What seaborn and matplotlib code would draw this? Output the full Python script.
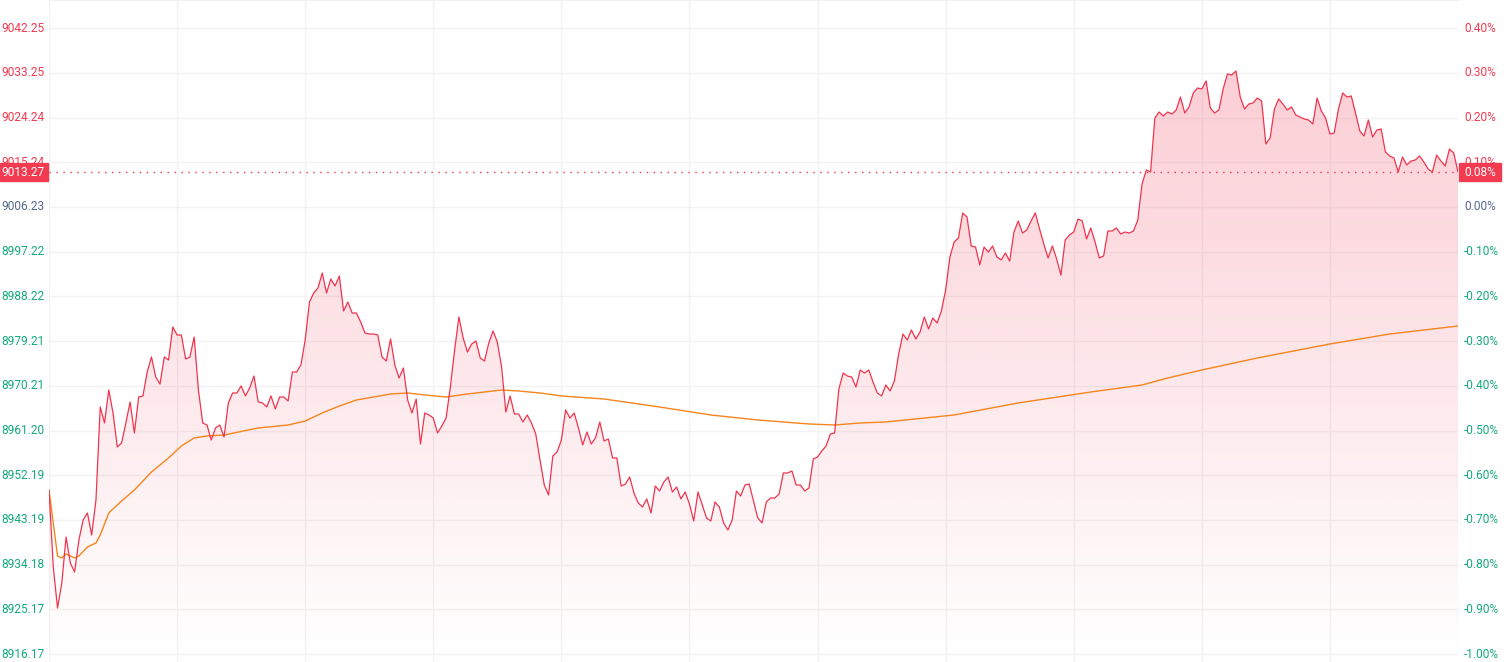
import numpy as np
import pandas as pd
import matplotlib
matplotlib.use("Agg")
import matplotlib.pyplot as plt
import matplotlib.transforms as mtransforms
from matplotlib.patches import Rectangle
import seaborn as sns

# --- data ---
base_price = 9006.23
last_price = 9013.27
last_pct = "0.08%"

prices = [
    8949.23, 8933.73, 8925.47, 8930.50, 8939.77, 8934.53, 8932.72, 8939.16, 8943.19, 8944.60,
    8940.17, 8947.22, 8965.95, 8962.73, 8969.37, 8964.74, 8957.89, 8958.70, 8962.73, 8966.96,
    8960.71, 8967.96, 8968.17, 8973.00, 8976.02, 8971.99, 8970.58, 8976.02, 8975.42, 8982.06,
    8980.45, 8980.45, 8975.62, 8976.02, 8980.05, 8969.37, 8962.73, 8962.32, 8959.30, 8961.72,
    8962.32, 8959.91, 8966.76, 8968.77, 8968.77, 8970.18, 8968.17, 8969.78, 8972.19, 8966.96,
    8966.76, 8965.95, 8968.17, 8965.55, 8967.96, 8967.96, 8967.16, 8973.00, 8973.00, 8974.41,
    8979.44, 8987.10, 8988.91, 8989.92, 8992.94, 8988.91, 8991.73, 8990.32, 8992.33, 8985.28,
    8987.10, 8984.88, 8984.88, 8983.07, 8980.85, 8980.65, 8980.65, 8980.45, 8976.02, 8975.21,
    8979.65, 8974.41, 8971.79, 8973.80, 8967.36, 8964.74, 8967.56, 8958.50, 8964.74, 8964.34,
    8963.73, 8960.71, 8962.12, 8963.73, 8969.98, 8977.43, 8984.08, 8979.85, 8977.03, 8978.64,
    8979.24, 8975.82, 8975.21, 8978.84, 8981.26, 8979.04, 8974.01, 8964.94, 8968.17, 8964.54,
    8964.54, 8962.93, 8964.34, 8962.73, 8960.51, 8955.28, 8950.24, 8948.23, 8956.08, 8956.89,
    8959.30, 8965.35, 8963.73, 8964.74, 8961.72, 8958.30, 8960.91, 8958.50, 8959.71, 8962.93,
    8959.10, 8959.51, 8955.68, 8955.68, 8950.04, 8950.44, 8951.85, 8948.63, 8946.62, 8945.81,
    8947.42, 8944.60, 8950.04, 8949.03, 8950.84, 8951.85, 8948.83, 8949.84, 8947.42, 8948.83,
    8946.41, 8942.99, 8948.83, 8946.21, 8943.59, 8942.99, 8946.82, 8945.81, 8942.59, 8941.18,
    8943.19, 8949.03, 8948.03, 8950.24, 8950.44, 8947.02, 8943.59, 8942.59, 8946.82, 8947.62,
    8947.62, 8948.43, 8952.66, 8952.66, 8953.06, 8950.24, 8950.24, 8949.03, 8949.64, 8955.48,
    8955.88, 8957.09, 8958.10, 8960.51, 8960.71, 8969.58, 8972.80, 8972.19, 8971.99, 8969.98,
    8973.40, 8972.80, 8973.40, 8970.98, 8968.77, 8968.17, 8970.38, 8969.17, 8971.19, 8976.62,
    8980.65, 8979.44, 8981.46, 8979.65, 8981.05, 8984.08, 8981.66, 8983.87, 8982.87, 8985.28,
    8989.51, 8996.16, 8999.18, 8999.99, 9005.02, 9004.22, 8998.38, 8998.17, 8994.55, 8998.17,
    8997.17, 8998.38, 8996.16, 8995.56, 8996.97, 8995.35, 9001.19, 9003.41, 9000.99, 9001.60,
    9003.41, 9005.02, 9001.80, 8998.78, 8995.96, 8998.38, 8995.76, 8992.53, 8999.58, 9000.59,
    9001.19, 9003.81, 9003.41, 8999.79, 9002.00, 8999.18, 8995.96, 8996.36, 9001.40, 9001.40,
    9002.00, 9000.79, 9001.19, 9000.99, 9001.40, 9003.61, 9010.86, 9013.68, 9013.28, 9024.15,
    9025.36, 9024.56, 9025.36, 9024.96, 9025.77, 9028.38, 9025.16, 9026.37, 9029.19, 9030.20,
    9030.00, 9031.61, 9026.17, 9025.16, 9025.77, 9030.00, 9033.02, 9032.81, 9033.62, 9028.38,
    9025.97, 9026.97, 9027.18, 9028.18, 9027.58, 9018.92, 9020.13, 9025.97, 9027.98, 9026.97,
    9025.77, 9026.37, 9024.76, 9024.36, 9023.95, 9023.75, 9022.95, 9028.18, 9025.56, 9024.15,
    9020.93, 9021.13, 9025.97, 9029.19, 9028.38, 9028.59, 9025.16, 9021.54, 9020.53, 9023.75,
    9020.33, 9021.74, 9021.94, 9017.31, 9016.50, 9016.10, 9013.28, 9016.30, 9014.69, 9015.49,
    9015.70, 9016.50, 9015.29, 9013.88, 9013.28, 9016.70, 9015.49, 9014.49, 9017.91, 9017.11,
    9013.27,
]

avg_idx = [0, 2, 3, 4, 6, 7, 9, 11, 12, 14, 17, 20, 24, 28, 31, 34, 37, 41, 49, 56,
           60, 64, 68, 72, 76, 80, 84, 88, 93, 98, 102, 106, 110, 115, 120, 130, 143, 155, 166, 178,
           184, 190, 196, 212, 227, 244, 256, 262, 270, 283, 300, 314, 330]
avg_val = [8949.23, 8935.94, 8935.54, 8936.34, 8935.54, 8935.94, 8937.75, 8938.56, 8940.17, 8944.60,
           8947.02, 8949.23, 8952.86, 8955.68, 8958.10, 8959.71, 8960.11, 8960.31, 8961.72, 8962.32,
           8963.13, 8964.74, 8966.15, 8967.36, 8967.96, 8968.57, 8968.77, 8968.37, 8967.96, 8968.57,
           8968.97, 8969.37, 8969.17, 8968.77, 8968.17, 8967.56, 8965.95, 8964.34, 8963.33, 8962.53,
           8962.32, 8962.73, 8962.93, 8964.34, 8966.76, 8968.97, 8970.38, 8971.79, 8973.40, 8975.82,
           8978.64, 8980.65, 8982.26]

price_ticks = [9042.25, 9033.25, 9024.24, 9015.24, 9006.23, 8997.22, 8988.22, 8979.21,
               8970.21, 8961.20, 8952.19, 8943.19, 8934.18, 8925.17, 8916.17]
pct_labels = ["0.40%", "0.30%", "0.20%", "0.10%", "0.00%", "-0.10%", "-0.20%", "-0.30%",
              "-0.40%", "-0.50%", "-0.60%", "-0.70%", "-0.80%", "-0.90%", "-1.00%"]

RED = "#f0344f"
ORANGE = "#f7841c"
UP = "#f23a50"
FLAT = "#56688c"
DOWN = "#14a97b"
GRID = "#f2f2f2"

W, H = 1512, 662
x0_px, x1_px = 49, 1458
ymin, ymax = 8914.59, 9047.92

sns.set_style("white")
plt.rcParams["font.family"] = ["Roboto", "DejaVu Sans"]

fig = plt.figure(figsize=(W / 100, H / 100), dpi=100)
ax = fig.add_axes([x0_px / W, 0, (x1_px - x0_px) / W, 1])

df = pd.DataFrame({"t": np.arange(len(prices)), "price": prices})
avg = pd.DataFrame({"t": avg_idx, "avg": avg_val})
n = len(prices) - 1

# gradient area under the price line
fill = ax.fill_between(df["t"], df["price"], ymin, facecolor="none", edgecolor="none")
rgb = matplotlib.colors.to_rgb(RED)
grad = np.zeros((256, 1, 4))
grad[..., 0], grad[..., 1], grad[..., 2] = rgb
grad[:, 0, 3] = np.linspace(0.27, 0.0, 256)
im = ax.imshow(grad, extent=[0, n, ymin, ymax], aspect="auto", origin="upper", zorder=1)
im.set_clip_path(fill.get_paths()[0], ax.transData)

sns.lineplot(data=df, x="t", y="price", ax=ax, color=RED, lw=0.9, zorder=4)
sns.lineplot(data=avg, x="t", y="avg", ax=ax, color=ORANGE, lw=1.0, zorder=3)

ax.axhline(last_price, color=RED, lw=1.0, ls=(0, (1, 4)), zorder=5)

ax.set_xlim(0, n)
ax.set_ylim(ymin, ymax)
ax.set_xticks(range(0, n + 1, 30))
ax.set_yticks(price_ticks)
ax.tick_params(left=False, bottom=False, labelleft=False, labelbottom=False)
ax.grid(True, color=GRID, lw=1.0, zorder=0)
ax.set_axisbelow(True)
ax.set_xlabel("")
ax.set_ylabel("")
for side in ["left", "right", "bottom"]:
    ax.spines[side].set_visible(False)
ax.spines["top"].set_color(GRID)

# axis labels drawn as text at pixel positions
trans = mtransforms.blended_transform_factory(fig.transFigure, ax.transData)
for p, lab in zip(price_ticks, pct_labels):
    if abs(p - base_price) < 0.01:
        c = FLAT
    elif p > base_price:
        c = UP
    else:
        c = DOWN
    ax.text(1 / W, p, f"{p:.2f}", transform=trans, color=c, fontsize=8.6,
            ha="left", va="center", clip_on=False)
    ax.text(1464 / W, p, lab, transform=trans, color=c, fontsize=8.6,
            ha="left", va="center", clip_on=False)

# last price markers
box_h = 18 * (ymax - ymin) / H
ax.add_patch(Rectangle((0, last_price - box_h / 2), 48 / W, box_h, transform=trans,
                       color=UP, clip_on=False, zorder=10))
ax.add_patch(Rectangle((1459 / W, last_price - box_h / 2), 42 / W, box_h, transform=trans,
                       color=UP, clip_on=False, zorder=10))
ax.text(1 / W, last_price, f"{last_price:.2f}", transform=trans, color="white", fontsize=8.6,
        ha="left", va="center", clip_on=False, zorder=11)
ax.text(1464 / W, last_price, last_pct, transform=trans, color="white", fontsize=8.6,
        ha="left", va="center", clip_on=False, zorder=11)

fig.savefig("out.png", dpi=100)
